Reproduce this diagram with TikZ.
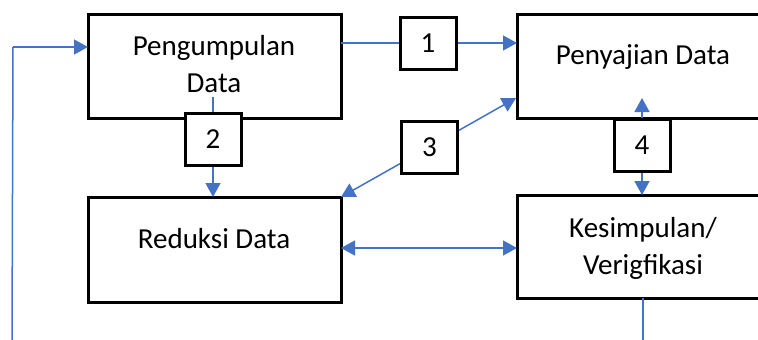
\documentclass[tikz,border=0pt]{standalone}
\usepackage{fontspec}
\setmainfont{Carlito}
\usetikzlibrary{arrows.meta}
\definecolor{conblue}{HTML}{4472C4}
\tikzset{
  box/.style={draw=black, line width=3pt, fill=white, rectangle, inner sep=0pt, outer sep=0pt},
  numbox/.style={box, minimum width=56pt, minimum height=52pt, font=\fontsize{29}{37}\selectfont},
  lbl/.style={align=center, inner sep=0pt, font=\fontsize{29}{37}\selectfont},
  con/.style={draw=conblue, line width=1.5pt},
  arr/.style={con, -{Triangle[length=14pt,width=15pt]}},
  darr/.style={con, {Triangle[length=14pt,width=15pt]}-{Triangle[length=14pt,width=15pt]}},
}
\begin{document}
\begin{tikzpicture}[x=1pt,y=-1pt]
\useasboundingbox (0,0) rectangle (758,340);
\clip (0,0) rectangle (758,340);
% main boxes
\node[box, minimum width=253pt, minimum height=104pt] (peng) at (214.5,66) {};
\node[box, minimum width=253pt, minimum height=105pt] (redu) at (214.5,249.5) {};
\node[box, minimum width=260pt, minimum height=104pt] (peny) at (647,66) {};
\node[box, minimum width=260pt, minimum height=103pt] (kesi) at (647,246.5) {};
% labels
\node[lbl] (tpeng) at (214,64) {Pengumpulan\\Data};
\node[lbl] (tredu) at (214,239) {Reduksi Data};
\node[lbl] (tpeny) at (643,57) {Penyajian Data};
\node[lbl] (tkesi) at (643,248) {Kesimpulan/\\Verigfikasi};
% number box positions
\coordinate (p1) at (428,43);
\coordinate (p2) at (213,139);
\coordinate (p3) at (429.5,147);
\coordinate (p4) at (642,145.5);
% free ends
\coordinate (c2top) at (213,97);
\coordinate (c4tip) at (642,98);
\coordinate (lb) at (12,340);
\coordinate (lt) at (13,47);
\coordinate (kb) at (643,340);
\coordinate (penin) at (516,98);
% connectors (under number boxes)
\draw[con] (c2top) -- (p2);
\draw[arr] (p2) -- (redu.north -| p2);
\draw[con] (lb) -- (lt);
\draw[arr] (lt) -- (peng.west |- lt);
\draw[con] (peng.east |- p1) -- (p1);
\draw[arr] (p1) -- (peny.west |- p1);
\draw[arr] (p3) -- (redu.north east);
\draw[arr] (p3) -- (penin);
\draw[arr] (p4) -- (c4tip);
\draw[arr] (p4) -- (kesi.north -| p4);
\draw[darr] (redu.east |- 0,248) -- (kesi.west |- 0,248);
\draw[con] (kesi.south -| kb) -- (kb);
% number boxes
\node[numbox] (n1) at (p1) {1};
\node[numbox] (n2) at (p2) {2};
\node[numbox] (n3) at (p3) {3};
\node[numbox] (n4) at (p4) {4};
\end{tikzpicture}
\end{document}
